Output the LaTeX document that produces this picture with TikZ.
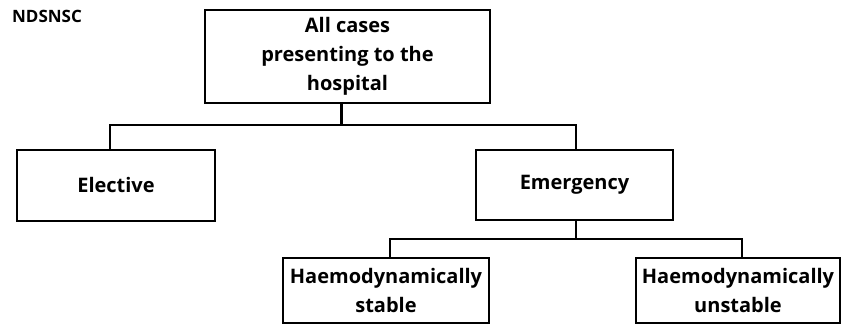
\documentclass[tikz,border=0pt]{standalone}
\usepackage{fontspec}
\setmainfont{Open Sans}

\begin{document}
\begin{tikzpicture}[x=1pt,y=1pt,
  box/.style={draw, line width=2.1pt, align=center, inner sep=0pt,
    font=\bfseries\fontsize{20}{29}\selectfont},
  link/.style={line width=2.1pt}]
\useasboundingbox (0,0) rectangle (843,326);

\node[font=\bfseries\fontsize{17}{20}\selectfont] (tag) at (47,310) {NDSNSC};

\node[box, minimum width=285, minimum height=93] (all) at (347.5,269.5) {All cases\\presenting to the\\hospital};
\node[box, minimum width=198, minimum height=71] (elect) at (116,140.5) {Elective};
\node[box, minimum width=197, minimum height=70] (emerg) at (574.5,141) {Emergency};
\node[box, minimum width=206, minimum height=65] (stab) at (386,35.5) {Haemodynamically\\stable};
\node[box, minimum width=204, minimum height=65] (unstab) at (738,35.5) {Haemodynamically\\unstable};

% tree lines
\draw[link] ([xshift=-6pt]all.south) -- ++(0,-21) -| ([xshift=-6pt]elect.north);
\draw[link] ([xshift=-6pt]all.south) -- ++(0,-21) -| ([xshift=1.5pt]emerg.north);
\draw[link] ([xshift=1.5pt]emerg.south) -- ++(0,-18) -| ([xshift=4pt]stab.north);
\draw[link] ([xshift=1.5pt]emerg.south) -- ++(0,-18) -| ([xshift=4pt]unstab.north);
\end{tikzpicture}
\end{document}
